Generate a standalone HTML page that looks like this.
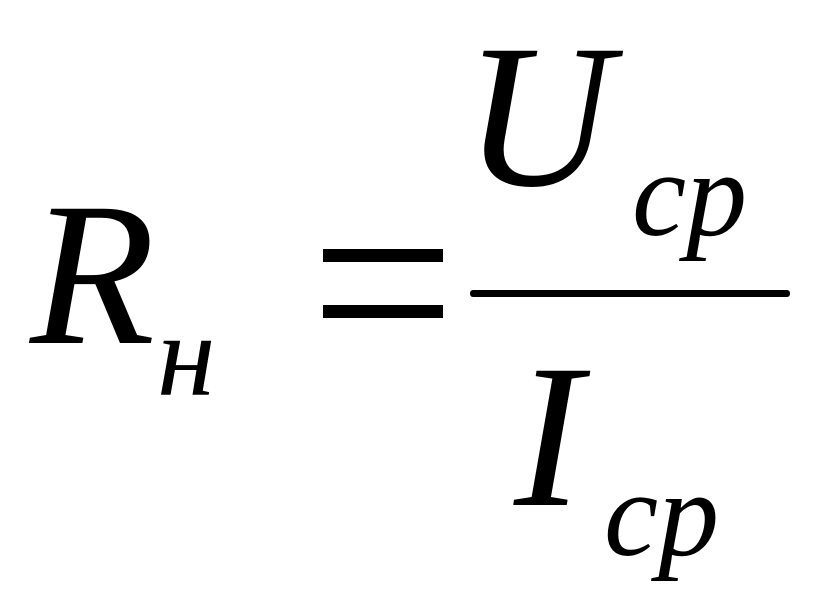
<!DOCTYPE html>
<html><head><meta charset="utf-8"><style>html,body{margin:0;padding:0;background:#fff;width:816px;height:612px;overflow:hidden}</style></head>
<body>
<svg width="816" height="612" viewBox="0 0 816 612" xmlns="http://www.w3.org/2000/svg">
<g font-family="Liberation Serif, serif" font-style="italic" fill="#000">
<text x="30" y="343" font-size="205">R</text>
<text x="157" y="395" font-size="118">н</text>
<text x="464" y="185" font-size="205">U</text>
<text x="632" y="235" font-size="122">cp</text>
<text x="514" y="505" font-size="205">I</text>
<text x="604" y="555" font-size="122">cp</text>
</g>
<rect x="323" y="249" width="120" height="13" fill="#000"/>
<rect x="323" y="305" width="120" height="13" fill="#000"/>
<rect x="470" y="290" width="320" height="7" rx="3" fill="#000"/>
</svg>
</body></html>
